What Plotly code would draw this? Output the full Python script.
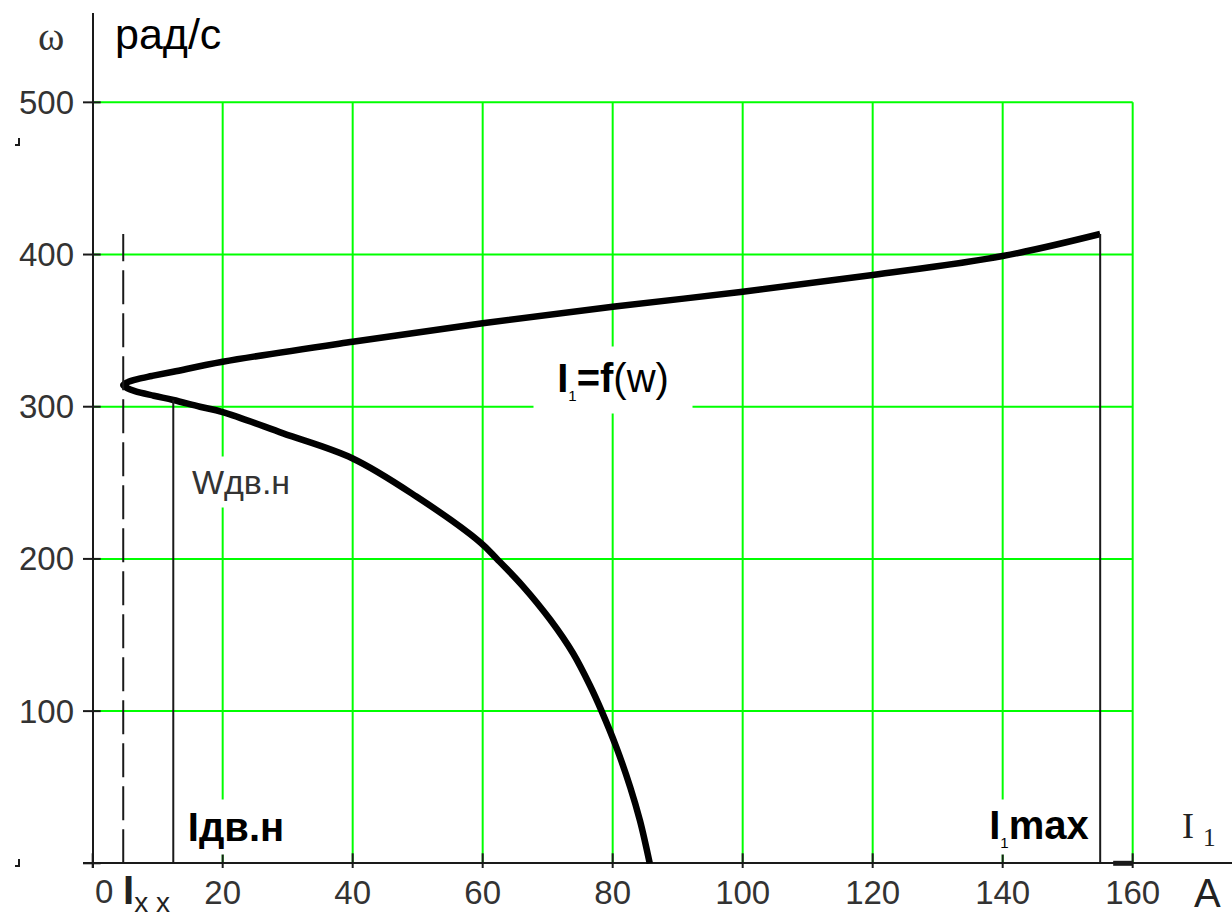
import plotly.graph_objects as go

# Stator current I1 versus shaft speed omega (motor branch below synchronous speed,
# generator branch above it). Values in A and rad/s.
I_MOTOR = [85.7, 84.2, 82.7, 80.5, 78.3, 76.6, 73.9, 70.4, 66.2, 62.2, 59.6,
           49.8, 40.0, 29.3, 20.0, 16.5, 12.4, 9.4, 6.5, 5.3]
W_MOTOR = [0, 28, 50, 77, 100, 116, 138, 160, 182, 200, 211,
           241, 266, 282.5, 296.5, 300, 304.4, 307.2, 310.2, 312.2]

I_TIP, W_TIP = 4.7, 314.2

I_GEN = [5.4, 6.9, 9.1, 12.4, 20.0, 40.0, 60.0, 80.0, 100.0, 120.0, 140.0, 155.0]
W_GEN = [316.2, 318.2, 320.2, 323.0, 329.5, 342.7, 354.8, 365.7, 375.5, 386.5, 399.0, 413.5]

I_XX = 4.7        # no-load current
I_NOM = 12.4      # rated current
W_NOM = 304.4     # rated speed
I_MAX = 155.0     # maximum current
W_MAX = 413.5     # speed at maximum current

X_TICKS = [0, 20, 40, 60, 80, 100, 120, 140, 160]
Y_TICKS = [0, 100, 200, 300, 400, 500]

# canvas / plot-area geometry in pixels
W_PX, H_PX = 1232, 917
PL, PR, PT, PB = 83, 1232, 13, 868
X_RANGE = [-1.49, 175.28]
Y_RANGE = [-3.09, 558.7]

GREEN = "#00ff00"
INK = "#1a1a1a"
SANS = "Liberation Sans, Arial, sans-serif"
NARROW = "Liberation Sans Narrow, Liberation Sans, sans-serif"
SERIF = "Liberation Serif, Times New Roman, serif"


def px(x):
    return (x - PL) / (PR - PL)


def py(y):
    return (PB - y) / (PB - PT)


fig = go.Figure()

# main characteristic
fig.add_trace(go.Scatter(
    x=I_MOTOR + [I_TIP] + I_GEN,
    y=W_MOTOR + [W_TIP] + W_GEN,
    mode="lines",
    line=dict(color="black", width=6.5, shape="spline", smoothing=1.0),
    hoverinfo="skip", showlegend=False,
))

# no-load current (dashed), rated point and maximum current markers
fig.add_trace(go.Scatter(x=[I_XX, I_XX], y=[0, W_MAX], mode="lines",
                         line=dict(color=INK, width=2, dash="34px,9px"),
                         hoverinfo="skip", showlegend=False))
fig.add_trace(go.Scatter(x=[I_NOM, I_NOM], y=[0, W_NOM], mode="lines",
                         line=dict(color=INK, width=2),
                         hoverinfo="skip", showlegend=False))
fig.add_trace(go.Scatter(x=[I_MAX, I_MAX], y=[0, W_MAX], mode="lines",
                         line=dict(color=INK, width=2),
                         hoverinfo="skip", showlegend=False))

shapes = []
x_lo, x_hi = X_TICKS[0], X_TICKS[-1]
y_lo, y_hi = Y_TICKS[0], Y_TICKS[-1]
# green grid confined to the data window
for xv in X_TICKS[1:]:
    shapes.append(dict(type="line", xref="x", yref="y", x0=xv, x1=xv, y0=y_lo, y1=y_hi,
                       line=dict(color=GREEN, width=2), layer="below"))
for yv in Y_TICKS[1:]:
    shapes.append(dict(type="line", xref="x", yref="y", x0=x_lo, x1=x_hi, y0=yv, y1=yv,
                       line=dict(color=GREEN, width=2), layer="below"))
# ticks crossing the axes
for xv in X_TICKS:
    shapes.append(dict(type="line", xref="x", yref="y", xsizemode="scaled",
                       ysizemode="pixel", yanchor=0, x0=xv, x1=xv, y0=-7, y1=10,
                       line=dict(color=INK, width=2)))
for yv in Y_TICKS:
    shapes.append(dict(type="line", xref="x", yref="y", ysizemode="scaled",
                       xsizemode="pixel", xanchor=0, y0=yv, y1=yv, x0=-10, x1=8,
                       line=dict(color=INK, width=2)))
# heavy stub at the end of the current axis
shapes.append(dict(type="line", xref="x", yref="y", x0=x_hi - 3, x1=x_hi, y0=0, y1=0,
                   line=dict(color=INK, width=5)))
# small corner marks of the region placeholders at the left edge
for ymark in (145, 866):
    shapes.append(dict(type="line", xref="paper", yref="paper",
                       x0=px(19), x1=px(19), y0=py(ymark - 7), y1=py(ymark),
                       line=dict(color=INK, width=2)))
    shapes.append(dict(type="line", xref="paper", yref="paper",
                       x0=px(15), x1=px(20), y0=py(ymark), y1=py(ymark),
                       line=dict(color=INK, width=2)))

annotations = []


def label(text, x, y, size, family=SANS, color="black", xref="x", yref="y",
          xanchor="center", yanchor="middle", bg=None, w=None, h=None):
    d = dict(text=text, x=x, y=y, xref=xref, yref=yref, showarrow=False,
             xanchor=xanchor, yanchor=yanchor,
             font=dict(family=family, size=size, color=color))
    if bg:
        d.update(bgcolor=bg, borderpad=0)
    if w:
        d["width"] = w
    if h:
        d["height"] = h
    annotations.append(d)


label("<b>I</b><sub><span style='font-size:15px'>1</span></sub><b>=f</b>(w)",
      80, 317.5, 40, bg="white", w=158, h=66)
label("Wдв.н", 22.8, 250.5, 34, color="#333", bg="white", w=112, h=50)
label("<b>Iдв.н</b>", 22.0, 24.0, 40, bg="white", w=104, h=54)
label("<b>I</b><sub><span style='font-size:15px'>1</span></sub><b>max</b>",
      145.6, 24.0, 40, bg="white", w=116, h=54)

# labels around the axes
label("ω", px(51), py(37), 40, family=SERIF, color="#333", xref="paper", yref="paper")
label("рад/с", px(113), py(34), 43, xref="paper", yref="paper", xanchor="left")
label("0", px(104), py(891), 33, family=NARROW, color="#333",
      xref="paper", yref="paper")
label("<b>I</b><sub>x x</sub>", px(121), py(893), 40, color="#222",
      xref="paper", yref="paper", xanchor="left")
label("I <sub>1</sub>", px(1180), py(828), 36, family=SERIF, color="#222",
      xref="paper", yref="paper", xanchor="left")
label("A", px(1207), py(893), 40, color="#222", xref="paper", yref="paper")

fig.update_layout(
    width=W_PX, height=H_PX,
    margin=dict(l=PL, r=W_PX - PR, t=PT, b=H_PX - PB, autoexpand=False),
    paper_bgcolor="white", plot_bgcolor="white",
    shapes=shapes, annotations=annotations,
    xaxis=dict(range=X_RANGE, showgrid=False, zeroline=True, zerolinecolor=INK,
               zerolinewidth=2, showline=False, ticks="",
               tickvals=X_TICKS[1:], ticktext=[str(v) for v in X_TICKS[1:]],
               tickfont=dict(family=NARROW, size=33, color="#333"),
               ticklabelstandoff=2, automargin=False, fixedrange=True),
    yaxis=dict(range=Y_RANGE, showgrid=False, zeroline=True, zerolinecolor=INK,
               zerolinewidth=2, showline=False, ticks="",
               tickvals=Y_TICKS[1:], ticktext=[str(v) for v in Y_TICKS[1:]],
               tickfont=dict(family=NARROW, size=33, color="#333"),
               ticklabelstandoff=8, automargin=False, fixedrange=True),
)

fig.write_html("out.html")
